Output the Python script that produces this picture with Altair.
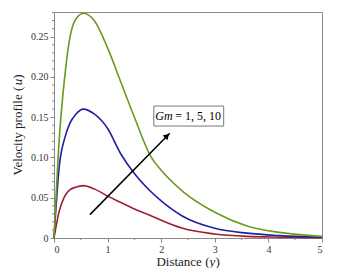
import altair as alt
import pandas as pd

# distance values (y)
xs = [0, 0.1, 0.2, 0.3, 0.4, 0.55, 0.75, 1.0, 1.25, 1.5, 1.8, 2.0, 2.4, 3.0, 3.6, 4.2, 5.0]
# velocity profiles for Gm = 1, 5, 10
u_gm1 = [0, 0.034, 0.052, 0.060, 0.063, 0.065, 0.061, 0.052, 0.044, 0.036, 0.028, 0.022, 0.012, 0.005, 0.002, 0.001, 0.0004]
u_gm5 = [0, 0.090, 0.124, 0.143, 0.153, 0.160, 0.154, 0.136, 0.104, 0.080, 0.058, 0.046, 0.027, 0.012, 0.006, 0.003, 0.001]
u_gm10 = [0, 0.125, 0.200, 0.250, 0.271, 0.279, 0.270, 0.236, 0.193, 0.150, 0.102, 0.084, 0.058, 0.032, 0.015, 0.007, 0.002]

series_names = ["Gm=1", "Gm=5", "Gm=10"]
series_colors = ["#a01e32", "#2020a0", "#6a9a1e"]

# axis ticks
y_major = [0, 0.05, 0.10, 0.15, 0.20, 0.25]
y_minor = [round(i * 0.01, 2) for i in range(1, 29) if i % 5 != 0]
x_major = [0, 1, 2, 3, 4, 5]
x_minor = [0.5, 1.5, 2.5, 3.5, 4.5]

# axis titles (pieces: normal, italic, normal)
xtitle_parts = ["Distance (", "y", ")"]
ytitle_parts = ["Velocity profile (", "u", ")"]

# annotation
arrow_x = [0.67, 2.16]
arrow_u = [0.029, 0.130]
head_x = [2.11]
head_u = [0.127]
box_x = [1.862]
box_x2 = [3.166]
box_u = [0.1638]
box_u2 = [0.139]
label_gm = "Gm"
label_rest = "= 1, 5, 10"
label_gm_x = [1.89]
label_rest_x = [2.26]
label_u = [0.1514]

rows = []
for name, vals in zip(series_names, [u_gm1, u_gm5, u_gm10]):
    for x, u in zip(xs, vals):
        rows.append({"x": x, "u": u, "Gm": name})
df = pd.DataFrame(rows)

FONT = "Liberation Serif"
W, H = 268, 226
xscale = alt.Scale(domain=[0, 5], nice=False)
yscale = alt.Scale(domain=[0, 0.2806], nice=False)

yaxis = alt.Axis(
    values=y_major,
    labelExpr="datum.value == 0 ? '0' : format(datum.value, '.2f')",
    tickSize=4,
    labelPadding=2,
    title="",
    grid=False,
)
xaxis = alt.Axis(
    values=x_major,
    format="d",
    tickSize=4,
    labelPadding=2,
    title="",
    grid=False,
)


def X(field):
    return alt.X(field, type="quantitative", scale=xscale, axis=xaxis)


def Y(field):
    return alt.Y(field, type="quantitative", scale=yscale, axis=yaxis)


lines = alt.Chart(df).mark_line(strokeWidth=1.6, interpolate="monotone").encode(
    x=X("x"),
    y=Y("u"),
    color=alt.Color("Gm:N", scale=alt.Scale(domain=series_names, range=series_colors), legend=None),
    detail="Gm:N",
)

ymin = alt.Chart(pd.DataFrame({"u": y_minor})).mark_rule(color="#888", strokeWidth=1).encode(
    y=Y("u"), x=alt.value(0), x2=alt.value(-2)
)
xmin = alt.Chart(pd.DataFrame({"x": x_minor})).mark_rule(color="#888", strokeWidth=1).encode(
    x=X("x"), y=alt.value(H), y2=alt.value(H + 2)
)

arrow_df = pd.DataFrame({"x": arrow_x, "u": arrow_u})
arrow = alt.Chart(arrow_df).mark_line(color="black", strokeWidth=1.5).encode(x=X("x"), y=Y("u"))
head = alt.Chart(pd.DataFrame({"x": head_x, "u": head_u})).mark_point(
    shape="triangle-up", filled=True, color="black", size=45, angle=45, opacity=1
).encode(x=X("x"), y=Y("u"))

box = alt.Chart(pd.DataFrame({"x": box_x, "x2": box_x2, "u": box_u, "u2": box_u2})).mark_rect(
    fill="white", stroke="#777", strokeWidth=1
).encode(x=X("x"), x2="x2:Q", y=Y("u"), y2="u2:Q")

t1 = alt.Chart(pd.DataFrame({"x": label_gm_x, "u": label_u, "t": [label_gm]})).mark_text(
    font=FONT, fontSize=12, fontStyle="italic", align="left", baseline="middle", color="black"
).encode(x=X("x"), y=Y("u"), text="t:N")
t2 = alt.Chart(pd.DataFrame({"x": label_rest_x, "u": label_u, "t": [label_rest]})).mark_text(
    font=FONT, fontSize=12, align="left", baseline="middle", color="black"
).encode(x=X("x"), y=Y("u"), text="t:N")

# axis title pieces
TS = 13
xt_pos = [102.4, 155.6, 161.4]
yt_pos = [163.5, 73.3, 66.8]
title_layers = []
for i, (txt, px) in enumerate(zip(xtitle_parts, xt_pos)):
    title_layers.append(
        alt.Chart(pd.DataFrame({"t": [txt]})).mark_text(
            font=FONT, fontSize=TS, fontStyle="italic" if i == 1 else "normal",
            align="left", baseline="middle", color="#222"
        ).encode(text="t:N", x=alt.value(px), y=alt.value(H + 24))
    )
for i, (txt, py) in enumerate(zip(ytitle_parts, yt_pos)):
    title_layers.append(
        alt.Chart(pd.DataFrame({"t": [txt]})).mark_text(
            font=FONT, fontSize=TS, fontStyle="italic" if i == 1 else "normal",
            align="left", baseline="middle", angle=270, color="#222"
        ).encode(text="t:N", x=alt.value(-36), y=alt.value(py))
    )

chart = alt.layer(lines, ymin, xmin, arrow, head, box, t1, t2, *title_layers).properties(
    width=W, height=H,
    autosize=alt.AutoSizeParams(type="none"),
    padding={"left": 46, "top": 4, "right": 10, "bottom": 30},
).configure_view(
    stroke="#888", strokeWidth=1
).configure_axis(
    domainColor="#888", tickColor="#888", labelFont=FONT, labelFontSize=10, labelColor="#333",
)

chart.save("out.html", embed_options={"renderer": "svg", "actions": False})
